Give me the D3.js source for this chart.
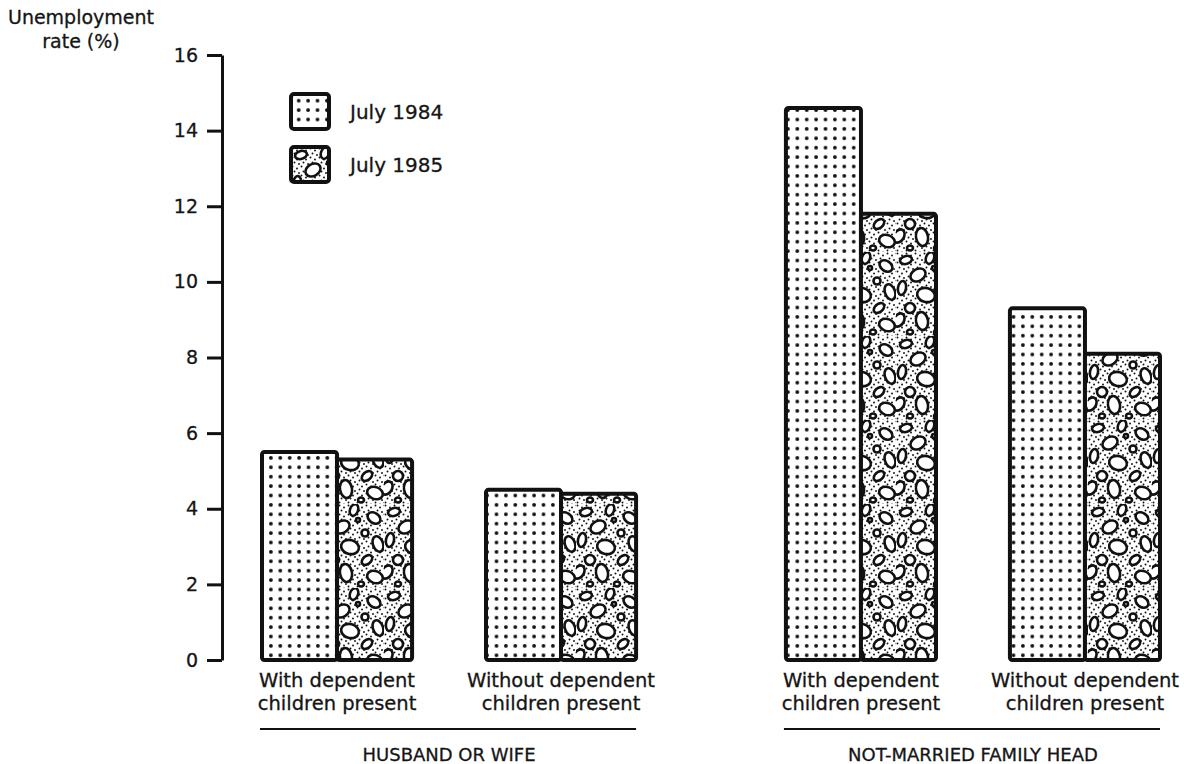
<!DOCTYPE html>
<html>
<head>
<meta charset="utf-8">
<script src="https://cdn.jsdelivr.net/npm/d3@7"></script>
<style>
  body { margin: 0; background: #fff; }
  text { font-family: "DejaVu Sans", "Liberation Sans", sans-serif; fill: #151515; stroke: #151515; stroke-width: 0.3; }
</style>
</head>
<body>
<div id="chart"></div>
<script>
const groups = ["HUSBAND OR WIFE", "NOT-MARRIED FAMILY HEAD"];
const subgroups = ["with", "without"];
const subLabels = {
  with: ["With dependent", "children present"],
  without: ["Without dependent", "children present"]
};
const years = ["July 1984", "July 1985"];
const rate1984 = [5.5, 4.5, 14.6, 9.3];
const rate1985 = [5.3, 4.4, 11.8, 8.1];
const yTicks = [0, 2, 4, 6, 8, 10, 12, 14, 16];

const width = 1184, height = 764;
const font = "'DejaVu Sans', 'Liberation Sans', sans-serif";

// one row per bar
const rows = [];
groups.forEach((g, gi) => {
  subgroups.forEach((s, si) => {
    const i = gi * 2 + si;
    rows.push({ group: g, sub: s, year: years[0], value: rate1984[i] });
    rows.push({ group: g, sub: s, year: years[1], value: rate1985[i] });
  });
});

const svg = d3.select("#chart")
  .append("svg")
  .attr("width", width)
  .attr("height", height);

// patterns
const defs = svg.append("defs");

const dots = defs.append("pattern")
  .attr("id", "dots")
  .attr("patternUnits", "userSpaceOnUse")
  .attr("width", 9.4)
  .attr("height", 9.4)
  .attr("x", 3)
  .attr("y", 2);
dots.append("rect").attr("width", 9.4).attr("height", 9.4).attr("fill", "#fff");
dots.append("circle").attr("cx", 4.7).attr("cy", 4.7).attr("r", 1.9).attr("fill", "#111");

// fine stipple underneath the pebbles
const stip = defs.append("pattern")
  .attr("id", "stipple")
  .attr("patternUnits", "userSpaceOnUse")
  .attr("width", 9)
  .attr("height", 9);
stip.append("rect").attr("width", 9).attr("height", 9).attr("fill", "#fff");
stip.selectAll("circle").data([[1.5, 1.5], [6, 3.5], [3.5, 6.5], [8, 8]]).join("circle")
  .attr("cx", d => d[0]).attr("cy", d => d[1])
  .attr("r", 0.95).attr("fill", "#111");

const tw = 64, th = 84;
const pebbles = defs.append("pattern")
  .attr("id", "pebbles")
  .attr("patternUnits", "userSpaceOnUse")
  .attr("width", tw)
  .attr("height", th);
pebbles.append("rect").attr("width", tw).attr("height", th).attr("fill", "url(#stipple)");
const ovals = [
  [10,8,6,4,-15],[34,6,4,6,20],[54,14,7,5,35],[22,23,8,6,-30],[45,29,3.5,3.5,0],
  [6,36,4,7,10],[58,40,5,8,-20],[30,43,9,7,15],[14,56,5,5,0],[47,56,6,4,-40],
  [3,68,5,7,30],[26,69,6,9,-10],[55,73,8,6,20],[41,80,3,2.5,0],[14,80,3,2.5,0],[38,16,2,2,0]
];
pebbles.selectAll("ellipse").data(ovals).join("ellipse")
  .attr("rx", d => d[2]).attr("ry", d => d[3])
  .attr("transform", d => `translate(${d[0]},${d[1]}) rotate(${d[4]})`)
  .attr("fill", "#fff").attr("stroke", "#111").attr("stroke-width", 2.6);

const fillFor = { "July 1984": "url(#dots)", "July 1985": "url(#pebbles)" };

// scales
const y = d3.scaleLinear().domain([0, 16]).range([660, 55]);

const x0 = d3.scaleBand().domain(groups).range([262, 1160]).paddingInner(0.286);
const x1 = d3.scaleBand().domain(subgroups).range([0, x0.bandwidth()]).paddingInner(0.33);
const x2 = d3.scaleBand().domain(years).range([0, x1.bandwidth()]);

const xPos = d => x0(d.group) + x1(d.sub) + x2(d.year);

// y axis
const yAxis = svg.append("g")
  .attr("transform", "translate(222,0)")
  .call(d3.axisLeft(y).tickValues(yTicks).tickSize(15).tickSizeOuter(0).tickPadding(9));
yAxis.select(".domain").attr("stroke", "#111").attr("stroke-width", 3);
yAxis.selectAll(".tick line").attr("stroke", "#111").attr("stroke-width", 3);
yAxis.selectAll(".tick text")
  .attr("font-size", 19)
  .attr("fill", "#151515")
  .style("font-family", font);

// axis title
svg.append("text")
  .attr("x", 81).attr("y", 24)
  .attr("text-anchor", "middle")
  .attr("font-size", 19)
  .text("Unemployment");
svg.append("text")
  .attr("x", 81).attr("y", 48)
  .attr("text-anchor", "middle")
  .attr("font-size", 19)
  .text("rate (%)");

// bars
svg.append("g")
  .selectAll("rect")
  .data(rows)
  .join("rect")
  .attr("x", d => xPos(d))
  .attr("y", d => y(d.value))
  .attr("width", x2.bandwidth())
  .attr("height", d => y(0) - y(d.value))
  .attr("fill", d => fillFor[d.year])
  .attr("stroke", "#111")
  .attr("stroke-width", 4)
  .attr("rx", 2.5);

// category labels
const cats = [];
groups.forEach(g => subgroups.forEach(s => cats.push({ group: g, sub: s })));
const catX = d => x0(d.group) + x1(d.sub) + x1.bandwidth() / 2;
const catText = svg.append("g")
  .selectAll("text")
  .data(cats)
  .join("text")
  .attr("text-anchor", "middle")
  .attr("font-size", 19.5)
  .attr("x", catX)
  .attr("y", 687);
catText.append("tspan").text(d => subLabels[d.sub][0]);
catText.append("tspan")
  .attr("x", catX)
  .attr("dy", 23)
  .text(d => subLabels[d.sub][1]);

// group rule and label
svg.append("g")
  .selectAll("line")
  .data(groups)
  .join("line")
  .attr("x1", d => x0(d) - 2)
  .attr("x2", d => x0(d) + x0.bandwidth())
  .attr("y1", 729).attr("y2", 729)
  .attr("stroke", "#111")
  .attr("stroke-width", 2);

svg.append("g")
  .selectAll("text")
  .data(groups)
  .join("text")
  .attr("x", d => x0(d) + x0.bandwidth() / 2)
  .attr("y", 761)
  .attr("text-anchor", "middle")
  .attr("font-size", 18)
  .text(d => d);

// legend
const legend = svg.append("g")
  .selectAll("g")
  .data(years)
  .join("g")
  .attr("transform", (d, i) => `translate(291,${94 + i * 53})`);
legend.append("rect")
  .attr("width", 38).attr("height", 35)
  .attr("rx", 3)
  .attr("fill", d => fillFor[d])
  .attr("stroke", "#111")
  .attr("stroke-width", 4);
legend.append("text")
  .attr("x", 59).attr("y", 25)
  .attr("font-size", 20)
  .text(d => d);
</script>
</body>
</html>
